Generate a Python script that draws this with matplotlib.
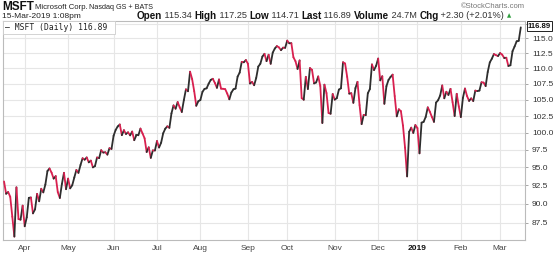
import matplotlib
matplotlib.use("Agg")
import matplotlib.pyplot as plt
import numpy as np
import pandas as pd
from matplotlib.collections import LineCollection
from matplotlib.ticker import FixedLocator, NullLocator, NullFormatter
from matplotlib.patches import Rectangle

# ---------------- data (daily closes, MSFT) ----------------
closes_2018_03 = [94.60, 92.89, 93.13, 92.48, 89.79, 87.18, 93.78, 89.47, 89.39, 91.27]
closes_2018_04 = [88.52, 89.71, 92.33, 92.38, 90.23, 90.77, 92.88, 91.86, 93.58, 93.08, 94.17,
                  96.07, 96.44, 95.84, 95.00, 95.35, 93.12, 92.31, 94.26, 95.82, 93.52]
closes_2018_05 = [95.00, 93.64, 94.07, 95.16, 96.22, 95.81, 96.94, 97.91, 97.70, 98.03, 97.32,
                  97.15, 96.18, 96.36, 97.60, 97.50, 98.66, 98.31, 98.36, 98.01, 98.95, 98.84]
closes_2018_06 = [100.79, 101.67, 102.19, 102.49, 100.88, 101.63, 101.05, 101.31, 100.85, 101.42,
                  100.13, 100.86, 100.86, 101.87, 101.14, 100.41, 98.39, 99.08, 97.54, 98.63, 98.61]
closes_2018_07 = [100.01, 99.05, 99.76, 101.16, 101.85, 102.21, 101.98, 104.19, 105.43, 104.91,
                  105.95, 105.12, 104.40, 106.27, 107.97, 107.66, 110.83, 109.62, 107.68, 105.37, 106.08]
closes_2018_08 = [106.28, 107.57, 108.04, 108.13, 108.88, 109.49, 109.67, 109.00, 108.21, 109.56,
                  107.66, 107.64, 107.58, 106.87, 105.98, 107.06, 107.56, 107.68, 109.60, 110.26,
                  112.02, 111.95, 112.33]
closes_2018_09 = [111.71, 108.49, 108.74, 108.21, 109.38, 111.24, 111.71, 112.91, 113.37, 112.14,
                  113.21, 111.70, 113.57, 114.26, 114.67, 114.45, 113.98, 114.41, 114.37]
closes_2018_10 = [115.61, 115.15, 115.17, 112.79, 112.13, 110.85, 112.26, 106.16, 105.91, 109.57,
                  107.60, 111.00, 110.71, 108.50, 108.66, 109.63, 108.10, 102.32, 108.30, 106.96,
                  103.85, 103.73, 106.81]
closes_2018_11 = [105.92, 106.16, 107.51, 107.72, 111.96, 111.75, 109.57, 106.87, 106.94, 104.97,
                  107.28, 108.29, 104.62, 101.71, 103.11, 103.07, 106.47, 107.14, 111.12, 110.19, 110.89]
closes_2018_12 = [112.09, 108.52, 109.19, 104.82, 107.59, 108.59, 109.08, 109.45, 106.03, 102.89,
                  103.97, 103.69, 101.51, 98.23, 94.13, 100.56, 101.18, 100.39, 101.57]
closes_2019_01 = [101.12, 97.40, 101.93, 102.06, 102.80, 104.27, 103.60, 102.80, 102.05, 105.01,
                  105.38, 106.12, 107.71, 105.68, 106.71, 106.20, 107.17, 105.08, 102.94, 106.38, 104.43]
closes_2019_02 = [102.78, 105.74, 107.22, 106.03, 105.27, 105.67, 105.25, 106.89, 106.81, 106.90,
                  108.22, 108.17, 107.15, 109.41, 110.97, 111.59, 112.36, 112.17, 112.03]
closes_2019_03 = [112.53, 112.26, 111.70, 111.75, 110.39, 110.51, 112.83, 113.62, 114.50, 114.59, 116.89]

dividend_dates = ["2018-05-16", "2018-08-15", "2018-11-14", "2019-02-20"]
dividend_amounts = [0.42, 0.42, 0.46, 0.46]

market_holidays = ["2018-03-30", "2018-05-28", "2018-07-04", "2018-09-03", "2018-11-22",
                   "2018-12-05", "2018-12-25", "2019-01-01", "2019-01-21", "2019-02-18"]

month_labels = ["Apr", "May", "Jun", "Jul", "Aug", "Sep", "Oct", "Nov", "Dec", "2019", "Feb", "Mar"]
y_ticks = [87.5, 90.0, 92.5, 95.0, 97.5, 100.0, 102.5, 105.0, 107.5, 110.0, 112.5, 115.0, 117.5]

# ---------------- prepare ----------------
closes = np.array(closes_2018_03 + closes_2018_04 + closes_2018_05 + closes_2018_06 +
                  closes_2018_07 + closes_2018_08 + closes_2018_09 + closes_2018_10 +
                  closes_2018_11 + closes_2018_12 + closes_2019_01 + closes_2019_02 +
                  closes_2019_03, dtype=float)
dates = pd.bdate_range("2018-03-16", "2019-03-15")
dates = dates[~dates.isin(pd.to_datetime(market_holidays))]
n = min(len(dates), len(closes))
dates = dates[:n]
closes = closes[:n]

# dividend adjustment (the chart shows adjusted prices)
adj = closes.copy()
for d, amt in zip(dividend_dates, dividend_amounts):
    idx = np.searchsorted(dates.values, np.datetime64(pd.Timestamp(d)))
    if 0 < idx < n:
        adj[:idx] *= 1 - amt / closes[idx - 1]

x = np.arange(n)

# ---------------- figure ----------------
W, H = 560, 254
fig = plt.figure(figsize=(W / 100, H / 100), dpi=100)
fig.patch.set_facecolor("white")

def fx(px):
    return px / W

def fy(py):
    return 1 - py / H

ax_left, ax_right, ax_top, ax_bottom = 3, 525, 21, 240
ax = fig.add_axes([fx(ax_left), fy(ax_bottom), fx(ax_right - ax_left), (ax_bottom - ax_top) / H])
ax.set_facecolor("white")

pts = np.column_stack([x, adj])
segs = np.stack([pts[:-1], pts[1:]], axis=1)
up = np.diff(adj) >= 0
colors = np.where(up, "#2e2e2e", "#d8204f")
lc = LineCollection(segs, colors=colors, linewidths=1.3, capstyle="round", joinstyle="round", zorder=3)
ax.add_collection(lc)

ax.set_yscale("log")
ax.set_ylim(85.3, 118.0)
px_per_day = 2.067
ax.set_xlim(-0.5, -0.5 + (ax_right - ax_left) / px_per_day)

month_idx = [i for i in range(1, n) if dates[i].month != dates[i - 1].month]
ax.xaxis.set_major_locator(FixedLocator(month_idx))
ax.set_xticklabels(month_labels[:len(month_idx)])
ax.xaxis.set_minor_locator(NullLocator())
ax.tick_params(axis="x", length=0, pad=3.5, labelsize=6, labelcolor="#444444")
for lbl in ax.get_xticklabels():
    lbl.set_fontfamily("Liberation Sans")
    if lbl.get_text() == "2019":
        lbl.set_fontweight("bold")
        lbl.set_color("#111111")

ax.yaxis.tick_right()
ax.yaxis.set_major_locator(FixedLocator(y_ticks))
# top label (117.5) sits behind the last-price box in the reference
ax.set_yticklabels([f"{v:.1f}" if v < 117 else "" for v in y_ticks])
ax.yaxis.set_minor_locator(NullLocator())
ax.yaxis.set_minor_formatter(NullFormatter())
ax.tick_params(axis="y", which="major", length=2, width=0.6, color="#999999", pad=3,
               labelsize=6, labelcolor="#333333")
for lbl in ax.get_yticklabels():
    lbl.set_fontfamily("Liberation Sans")

ax.grid(True, color="#e6e6e6", linewidth=0.8, zorder=0)
ax.set_axisbelow(True)
for side in ["left", "bottom", "right", "top"]:
    ax.spines[side].set_color("#bbbbbb")
    ax.spines[side].set_linewidth(0.8)

# legend box
fig.patches.append(Rectangle((fx(3), fy(34)), fx(112), 13 / H, transform=fig.transFigure,
                             facecolor="white", edgecolor="#cccccc", linewidth=0.6, zorder=5))
fig.text(fx(5), fy(27.5), "\u2014 MSFT (Daily) 116.89", fontsize=5.8, family="DejaVu Sans Mono",
         color="#222222", va="center", ha="left", zorder=6)

# last price box
fig.text(fx(528), fy(26), f"{adj[-1]:.2f}", fontsize=5.6, fontweight="bold", family="Liberation Sans",
         color="#111111", va="center", ha="left", zorder=6,
         bbox=dict(boxstyle="square,pad=0.15", facecolor="white", edgecolor="#222222", linewidth=0.7))

# header
fig.text(fx(2), fy(7), "MSFT", fontsize=8.5, fontweight="bold", family="Liberation Sans",
         color="#111111", va="center", ha="left")
fig.text(fx(35), fy(7.5), "Microsoft Corp.", fontsize=5.6, family="Liberation Sans",
         color="#222222", va="center", ha="left")
fig.text(fx(89), fy(7.5), "Nasdaq GS + BATS", fontsize=5.2, family="Liberation Sans",
         color="#222222", va="center", ha="left")
fig.text(fx(2), fy(16), "15-Mar-2019 1:08pm", fontsize=6, family="Liberation Sans",
         color="#222222", va="center", ha="left")
fig.text(fx(525), fy(6), "\u00a9StockCharts.com", fontsize=5.5, family="Liberation Sans",
         color="#777777", va="center", ha="right")

pieces = [("Open", True), (" 115.34 ", False), ("High", True), (" 117.25 ", False),
          ("Low", True), (" 114.71 ", False), ("Last", True), (" 116.89 ", False),
          ("Volume", True), (" 24.7M ", False), ("Chg", True), (" +2.30 (+2.01%)", False)]
renderer = fig.canvas.get_renderer()
xpos = 137.0
for txt, bold in pieces:
    t = fig.text(fx(xpos), fy(16), txt, fontsize=7.1 if bold else 6.6,
                 fontweight="bold" if bold else "normal",
                 family="Liberation Sans", color="#111111" if bold else "#333333",
                 va="center", ha="left")
    xpos += t.get_window_extent(renderer=renderer).width
fig.text(fx(xpos + 3), fy(15.5), "\u25b2", fontsize=4, family="DejaVu Sans", color="#2e9e3e",
         va="center", ha="left")

fig.savefig("out.png", dpi=100, facecolor="white")
